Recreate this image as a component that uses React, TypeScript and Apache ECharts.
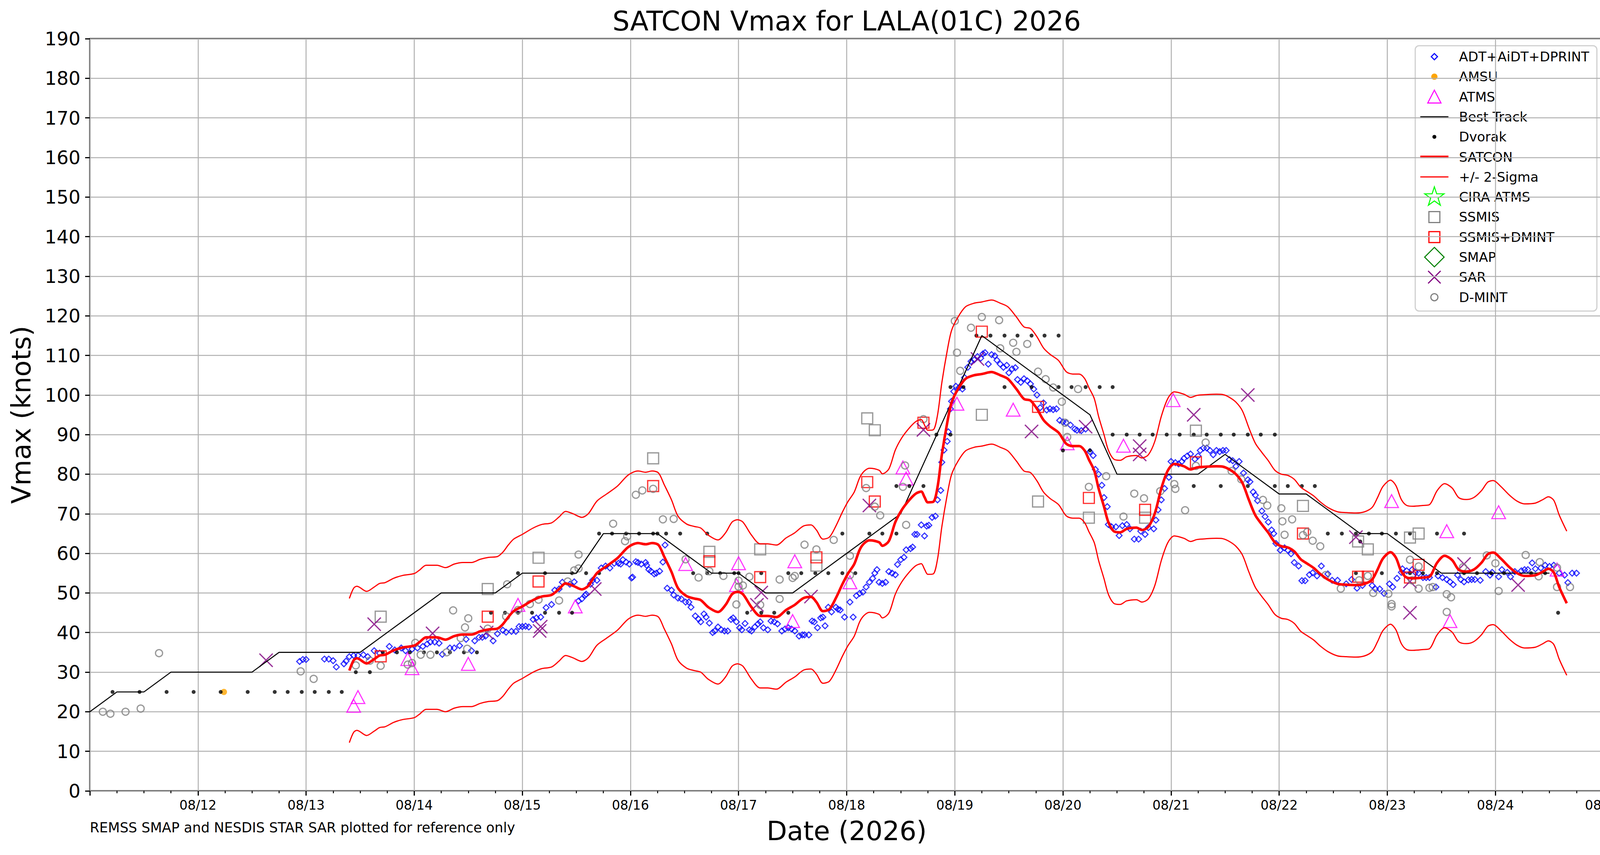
import { useEffect, useRef } from "react";
import * as echarts from "echarts";

// x values are August 2026 day-of-month with fractional hours (13.5 = 08/13 12Z)
const DAY_MIN = 11;
const DAY_MAX = 25;
const Y_MAX = 190;

const BEST_TRACK = [
  [11.0, 20], [11.25, 25], [11.5, 25], [11.75, 30], [12.0, 30], [12.25, 30], [12.5, 30],
  [12.75, 35], [13.0, 35], [13.25, 35], [13.5, 35], [13.75, 40], [14.0, 45], [14.25, 50],
  [14.5, 50], [14.75, 50], [15.0, 55], [15.25, 55], [15.5, 55], [15.75, 65], [16.0, 65],
  [16.25, 65], [16.5, 60], [16.75, 55], [17.0, 55], [17.25, 50], [17.5, 50], [17.75, 55],
  [18.0, 60], [18.25, 65], [18.5, 70], [18.75, 85], [19.0, 100], [19.25, 115], [19.5, 110],
  [19.75, 105], [20.0, 100], [20.25, 95], [20.5, 80], [20.75, 80], [21.0, 80], [21.25, 80],
  [21.5, 85], [21.75, 80], [22.0, 75], [22.25, 75], [22.5, 70], [22.75, 65], [23.0, 65],
  [23.25, 60], [23.5, 55], [23.75, 55], [24.0, 55], [24.25, 55], [24.5, 55],
];

const DVORAK = [
  [11.21, 25], [11.46, 25], [11.71, 25], [11.96, 25], [12.21, 25], [12.46, 25], [12.71, 25],
  [12.83, 25], [12.96, 25], [13.08, 25], [13.21, 25], [13.33, 25], [13.46, 30], [13.59, 30],
  [13.71, 35], [13.84, 35], [13.96, 35], [14.09, 35], [14.21, 35], [14.33, 35], [14.46, 35],
  [14.58, 35], [14.71, 45], [14.84, 45], [14.96, 45], [15.09, 45], [15.21, 45], [15.34, 45],
  [15.46, 45], [14.96, 55], [15.21, 55], [15.46, 55], [15.59, 55], [15.71, 55], [15.71, 65],
  [15.83, 65], [15.96, 65], [16.08, 65], [16.21, 65], [16.25, 65], [16.33, 65], [16.46, 65],
  [16.71, 65], [16.58, 55], [16.71, 55], [16.83, 55], [16.96, 55], [17.0, 55], [17.21, 55],
  [17.46, 55], [17.58, 55], [17.71, 55], [17.83, 55], [17.96, 55], [18.08, 55], [17.08, 45],
  [17.21, 45], [17.33, 45], [17.46, 45], [17.96, 65], [18.21, 65], [18.33, 65], [18.46, 65],
  [18.46, 77], [18.58, 77], [18.71, 77], [18.83, 90], [18.96, 90], [18.96, 102], [19.08, 102],
  [19.46, 102], [19.71, 102], [19.96, 102], [20.08, 102], [20.21, 102], [20.34, 102],
  [20.46, 102], [19.2, 115], [19.33, 115], [19.46, 115], [19.58, 115], [19.71, 115],
  [19.83, 115], [19.96, 115], [20.0, 86], [20.25, 86], [20.46, 90], [20.59, 90], [20.71, 90],
  [20.83, 90], [20.96, 90], [21.08, 90], [21.21, 90], [21.33, 90], [21.46, 90], [21.58, 90],
  [21.71, 90], [21.83, 90], [21.96, 90], [21.21, 77], [21.46, 77], [21.71, 77], [21.96, 77],
  [22.08, 77], [22.21, 77], [22.33, 77], [22.45, 65], [22.58, 65], [22.71, 65], [22.83, 65],
  [22.95, 65], [23.08, 65], [23.21, 65], [23.46, 65], [23.71, 65], [22.75, 63], [22.71, 55],
  [22.95, 55], [23.21, 55], [23.33, 55], [23.46, 55], [23.71, 55], [23.83, 55], [23.96, 55],
  [24.08, 55], [24.33, 55], [24.46, 55], [24.58, 45],
];

const AMSU = [[12.24, 25]];

const ATMS = [
  [13.48, 23.7], [13.44, 21.5], [13.94, 33.3], [13.98, 31.0], [14.5, 32.1], [14.96, 47.0],
  [15.49, 46.6], [16.51, 57.3], [17.0, 57.5], [16.98, 52.0], [17.52, 58.0], [17.5, 42.9],
  [18.03, 52.7], [18.52, 81.7], [18.55, 78.9], [19.02, 97.8], [19.54, 96.3], [20.04, 87.8],
  [20.56, 87.2], [21.02, 98.7], [23.04, 73.2], [23.55, 65.6], [23.58, 42.9], [24.03, 70.4],
  [24.57, 55.9],
];

const SSMIS = [
  [13.69, 44], [14.68, 51], [15.15, 58.9], [16.21, 84], [16.73, 60.4], [17.2, 61],
  [17.72, 56.9], [18.19, 94.1], [18.26, 91.1], [19.25, 95], [19.77, 73.1], [20.24, 69],
  [20.76, 69], [21.23, 91], [22.22, 72], [22.73, 63], [22.82, 61], [23.21, 64], [23.29, 65],
];

const SSMIS_DMINT = [
  [13.69, 34], [14.68, 44], [15.15, 52.9], [16.21, 77], [16.73, 58], [17.2, 54], [17.72, 59],
  [18.19, 78], [18.26, 73.1], [18.71, 93], [19.25, 116], [19.77, 97], [20.24, 74],
  [20.76, 71], [21.23, 83], [22.22, 65], [22.73, 54.1], [22.82, 54.1], [23.21, 53.9],
  [23.29, 57.1],
];

const SAR = [
  [12.63, 33], [13.63, 42.1], [14.17, 39.8], [14.67, 40], [15.17, 41.5], [15.16, 40.4],
  [15.67, 51], [17.21, 50.1], [17.17, 47], [17.67, 49.1], [18.21, 72.1], [18.71, 91.2],
  [19.21, 109.1], [19.71, 90.8], [20.21, 92], [20.71, 87.1], [20.71, 85], [21.21, 95],
  [21.71, 100], [22.71, 64.1], [23.21, 45], [23.21, 52.9], [23.71, 57.3], [24.21, 52],
];

const DMINT = [
  [11.12, 20], [11.19, 19.5], [11.33, 20], [11.47, 20.8], [11.64, 34.8], [12.95, 30.2],
  [13.07, 28.3], [13.46, 31.7], [13.59, 32.9], [13.69, 31.6], [13.94, 31.9], [13.98, 32.3],
  [14.01, 37.4], [14.06, 34.4], [14.15, 34.4], [14.3, 35.0], [14.36, 45.6], [14.43, 38.6],
  [14.47, 41.3], [14.5, 43.6], [14.49, 35.9], [14.68, 41.0], [14.85, 44.1], [14.86, 52.2],
  [14.96, 45.7], [15.07, 47.2], [15.15, 48.3], [15.34, 48.1], [15.42, 52.9], [15.48, 55.7],
  [15.52, 56.2], [15.52, 59.7], [15.84, 67.5], [15.95, 63.1], [15.97, 64.3], [16.05, 74.8],
  [16.11, 75.9], [16.21, 76.3], [16.3, 68.6], [16.4, 68.7], [16.51, 58.5], [16.63, 53.9],
  [16.73, 55.5], [16.86, 54.3], [17.0, 53.1], [17.0, 51.6], [17.04, 51.9], [16.98, 47.1],
  [17.1, 54.1], [17.2, 47.0], [17.38, 53.4], [17.38, 48.5], [17.5, 53.8], [17.52, 54.3],
  [17.61, 62.2], [17.72, 61.0], [17.88, 63.4], [18.03, 59.4], [18.03, 54.5], [18.18, 76.5],
  [18.26, 71.8], [18.31, 69.6], [18.52, 76.8], [18.54, 82.2], [18.55, 67.2], [18.71, 93.9],
  [19.0, 118.7], [19.02, 110.7], [19.05, 106.1], [19.15, 117.0], [19.25, 119.7],
  [19.41, 118.9], [19.42, 111.8], [19.54, 113.2], [19.57, 110.9], [19.67, 112.9],
  [19.77, 105.9], [19.84, 104.0], [19.91, 101.9], [19.99, 98.3], [20.02, 93.0], [20.04, 89.4],
  [20.14, 101.5], [20.24, 76.8], [20.4, 79.5], [20.56, 69.3], [20.66, 75.1], [20.75, 73.9],
  [20.9, 75.7], [21.03, 77.5], [21.04, 76.3], [21.13, 70.9], [21.23, 82.1], [21.32, 88.0],
  [21.56, 80.8], [21.65, 78.7], [21.85, 73.5], [21.89, 72.1], [22.02, 71.4], [22.03, 68.1],
  [22.05, 64.7], [22.12, 68.6], [22.22, 64.6], [22.26, 65.4], [22.31, 63.2], [22.38, 61.8],
  [22.43, 54.5], [22.57, 51.1], [22.74, 53.2], [22.82, 54.3], [22.87, 50.0], [23.01, 49.8],
  [23.04, 47.2], [23.04, 46.6], [23.21, 58.4], [23.29, 56.7], [23.23, 53.2], [23.29, 51.1],
  [23.39, 51.3], [23.42, 51.5], [23.55, 49.7], [23.59, 48.9], [23.55, 45.2], [23.7, 56.5],
  [23.92, 59.5], [24.0, 57.5], [24.03, 50.5], [24.28, 59.6], [24.41, 57.8], [24.4, 54.2],
  [24.57, 56.4], [24.57, 51.5], [24.69, 51.5],
];

const ADT = [
  [12.94, 32.7], [12.97, 33.2], [13.0, 33.2], [13.17, 33.3], [13.21, 33.3], [13.25, 32.9],
  [13.28, 31.3], [13.35, 32.1], [13.37, 32.8], [13.4, 33.9], [13.44, 34.2], [13.48, 34.2],
  [13.53, 34.4], [13.57, 33.9], [13.63, 35.4], [13.68, 34.8], [13.77, 36.5], [13.82, 35.6],
  [13.88, 36.1], [13.92, 35.4], [13.98, 35.8], [14.03, 36.1], [14.08, 36.5], [14.12, 37.1],
  [14.15, 37.6], [14.19, 37.6], [14.23, 37.3], [14.26, 34.5], [14.33, 36.1], [14.37, 36.1],
  [14.42, 36.7], [14.48, 38.3], [14.53, 35.4], [14.56, 37.9], [14.6, 38.8], [14.63, 38.8],
  [14.66, 39.1], [14.73, 37.9], [14.77, 39.7], [14.82, 40.6], [14.85, 40.1], [14.9, 40.3],
  [14.94, 40.3], [14.97, 41.5], [15.0, 41.5], [15.03, 41.6], [15.06, 41.4], [15.1, 43.3],
  [15.13, 43.7], [15.17, 43.9], [15.22, 46.3], [15.27, 47.1], [15.3, 50.7], [15.34, 51.0],
  [15.37, 52.7], [15.44, 52.2], [15.48, 52.8], [15.52, 48.0], [15.55, 48.5], [15.58, 49.4],
  [15.59, 49.7], [15.63, 52.2], [15.65, 53.2], [15.69, 53.2], [15.73, 56.3], [15.77, 56.8],
  [15.81, 56.3], [15.85, 57.5], [15.89, 57.5], [15.91, 57.3], [15.93, 58.4], [15.96, 57.8],
  [15.99, 57.3], [16.01, 53.8], [16.02, 54.0], [16.05, 57.9], [16.07, 57.7], [16.1, 57.3],
  [16.14, 57.7], [16.15, 57.0], [16.17, 55.9], [16.19, 55.5], [16.22, 54.8], [16.24, 55.0],
  [16.27, 55.5], [16.3, 57.8], [16.32, 62.1], [16.34, 51.2], [16.38, 50.7], [16.4, 49.5],
  [16.44, 48.7], [16.47, 48.5], [16.51, 47.7], [16.54, 47.7], [16.56, 46.4], [16.6, 44.2],
  [16.63, 43.4], [16.65, 42.7], [16.68, 44.7], [16.7, 43.9], [16.73, 42.4], [16.76, 40.0],
  [16.78, 40.4], [16.81, 41.4], [16.84, 40.7], [16.87, 40.4], [16.9, 40.4], [16.93, 43.3],
  [16.95, 43.7], [16.98, 42.7], [17.01, 41.2], [17.03, 40.7], [17.06, 42.3], [17.1, 40.7],
  [17.12, 40.4], [17.15, 41.4], [17.18, 42.2], [17.2, 42.7], [17.23, 41.2], [17.27, 40.7],
  [17.3, 42.9], [17.33, 42.7], [17.36, 42.2], [17.4, 40.4], [17.43, 40.9], [17.46, 41.2],
  [17.49, 40.9], [17.52, 40.4], [17.56, 39.1], [17.59, 39.4], [17.61, 39.4], [17.65, 39.4],
  [17.68, 42.9], [17.7, 42.7], [17.73, 41.2], [17.76, 43.7], [17.78, 43.9], [17.8, 41.7],
  [17.83, 46.4], [17.86, 45.2], [17.9, 46.4], [17.92, 45.9], [17.94, 45.7], [17.98, 43.9],
  [18.03, 47.7], [18.06, 43.9], [18.09, 49.3], [18.12, 49.9], [18.15, 50.2], [18.18, 51.5],
  [18.21, 52.7], [18.24, 53.7], [18.26, 55.0], [18.28, 55.9], [18.3, 52.7], [18.33, 52.4],
  [18.36, 52.7], [18.39, 55.4], [18.42, 55.0], [18.45, 54.6], [18.47, 57.2], [18.5, 58.4],
  [18.53, 59.0], [18.55, 60.9], [18.59, 61.2], [18.61, 61.6], [18.63, 64.8], [18.65, 64.8],
  [18.69, 67.2], [18.72, 64.4], [18.74, 66.9], [18.76, 67.1], [18.79, 69.1], [18.82, 69.4],
  [18.84, 73.5], [18.87, 75.9], [18.88, 83.0], [18.9, 86.1], [18.93, 88.3], [18.94, 90.7],
  [18.96, 96.5], [18.97, 98.4], [18.99, 100.9], [19.01, 102.2], [19.04, 101.9], [19.07, 101.5],
  [19.09, 104.4], [19.12, 107.0], [19.15, 108.5], [19.18, 108.9], [19.21, 109.7],
  [19.24, 109.3], [19.26, 110.4], [19.28, 110.7], [19.31, 107.8], [19.34, 110.2],
  [19.37, 109.9], [19.39, 108.8], [19.42, 107.8], [19.45, 107.0], [19.48, 107.5],
  [19.5, 105.6], [19.53, 106.6], [19.56, 106.9], [19.58, 103.9], [19.61, 103.2],
  [19.64, 104.1], [19.67, 103.6], [19.7, 102.8], [19.73, 101.5], [19.76, 100.0], [19.79, 96.8],
  [19.82, 98.0], [19.85, 96.2], [19.88, 96.5], [19.91, 96.3], [19.94, 96.5], [19.97, 93.6],
  [20.0, 93.2], [20.03, 93.0], [20.07, 92.4], [20.11, 91.4], [20.13, 91.1], [20.17, 91.0],
  [20.21, 91.4], [20.25, 85.7], [20.28, 84.7], [20.3, 81.2], [20.33, 80.0], [20.36, 77.2],
  [20.38, 74.1], [20.41, 71.8], [20.42, 67.3], [20.45, 66.7], [20.49, 66.7], [20.52, 64.5],
  [20.55, 67.0], [20.59, 67.3], [20.62, 66.2], [20.66, 63.6], [20.7, 63.6], [20.72, 65.6],
  [20.76, 64.8], [20.79, 66.5], [20.84, 66.2], [20.86, 68.4], [20.88, 71.0], [20.91, 73.5],
  [20.94, 76.4], [20.98, 79.2], [21.0, 83.2], [21.04, 82.9], [21.07, 82.6], [21.1, 83.2],
  [21.12, 84.0], [21.15, 84.6], [21.18, 85.1], [21.22, 83.8], [21.25, 84.6], [21.27, 86.0],
  [21.3, 86.6], [21.33, 86.6], [21.36, 86.0], [21.39, 84.9], [21.42, 86.0], [21.45, 85.7],
  [21.48, 86.0], [21.51, 86.0], [21.54, 83.7], [21.57, 83.4], [21.6, 82.0], [21.63, 83.2],
  [21.67, 80.3], [21.71, 78.6], [21.73, 78.1], [21.76, 75.5], [21.78, 74.7], [21.8, 73.3],
  [21.84, 70.7], [21.87, 69.3], [21.9, 67.9], [21.93, 65.9], [21.95, 65.0], [21.97, 62.5],
  [22.01, 60.8], [22.05, 61.4], [22.08, 60.8], [22.11, 59.9], [22.14, 57.7], [22.18, 56.8],
  [22.21, 53.1], [22.24, 53.1], [22.28, 54.6], [22.31, 55.1], [22.35, 54.3], [22.39, 56.8],
  [22.45, 54.8], [22.49, 53.2], [22.54, 53.2], [22.62, 52.3], [22.67, 53.4], [22.72, 51.2],
  [22.77, 51.9], [22.86, 51.9], [22.89, 51.0], [22.93, 51.0], [22.97, 49.9], [23.02, 52.3],
  [23.05, 51.5], [23.09, 53.7], [23.13, 55.2], [23.14, 56.1], [23.18, 55.6], [23.23, 55.9],
  [23.26, 55.2], [23.29, 55.0], [23.33, 53.9], [23.36, 53.9], [23.39, 53.9], [23.45, 51.5],
  [23.47, 54.3], [23.51, 53.9], [23.55, 53.4], [23.58, 52.8], [23.61, 52.1], [23.65, 54.5],
  [23.68, 53.4], [23.71, 52.8], [23.75, 53.3], [23.78, 53.4], [23.81, 53.4], [23.86, 53.2],
  [23.91, 55.4], [23.95, 54.5], [23.97, 55.2], [24.03, 54.1], [24.06, 55.9], [24.11, 55.2],
  [24.14, 54.1], [24.18, 55.4], [24.24, 55.6], [24.27, 55.9], [24.3, 55.9], [24.34, 57.6],
  [24.37, 56.1], [24.42, 56.3], [24.46, 57.0], [24.5, 56.7], [24.54, 57.0], [24.59, 55.0],
  [24.64, 54.5], [24.67, 52.6], [24.71, 55.0], [24.75, 55.0],
];

const SATCON = [
  [13.4, 30.4], [13.44, 33.0], [13.47, 33.5], [13.56, 32.2], [13.63, 33.3], [13.68, 34.2],
  [13.73, 34.4], [13.81, 35.5], [13.89, 36.2], [14.0, 36.7], [14.05, 37.6], [14.11, 38.8],
  [14.21, 38.8], [14.29, 38.2], [14.37, 39.1], [14.45, 39.5], [14.53, 39.5], [14.61, 40.3],
  [14.69, 40.8], [14.77, 41.0], [14.82, 42.1], [14.87, 43.9], [14.92, 45.4], [15.0, 46.6],
  [15.1, 48.2], [15.18, 49.1], [15.27, 49.5], [15.34, 51.0], [15.4, 52.4], [15.47, 51.8],
  [15.55, 50.9], [15.61, 51.8], [15.69, 55.0], [15.78, 56.8], [15.88, 58.8], [15.98, 61.6],
  [16.07, 62.6], [16.14, 62.3], [16.2, 62.6], [16.26, 62.1], [16.31, 59.3], [16.38, 55.3],
  [16.44, 51.2], [16.52, 49.2], [16.59, 48.6], [16.65, 48.2], [16.72, 46.4], [16.81, 45.2],
  [16.88, 47.0], [16.94, 49.7], [16.99, 50.3], [17.04, 49.7], [17.12, 46.4], [17.2, 44.2],
  [17.27, 44.2], [17.35, 43.9], [17.44, 45.7], [17.52, 47.0], [17.6, 48.7], [17.67, 49.0],
  [17.72, 47.7], [17.78, 45.4], [17.84, 45.9], [17.9, 48.7], [17.96, 52.2], [18.01, 54.8],
  [18.07, 57.3], [18.12, 60.9], [18.16, 62.5], [18.21, 63.3], [18.3, 62.8], [18.33, 61.9],
  [18.39, 63.1], [18.45, 67.9], [18.51, 71.0], [18.58, 73.5], [18.64, 75.1], [18.69, 75.6],
  [18.72, 74.2], [18.75, 72.9], [18.8, 73.0], [18.84, 76.7], [18.88, 84.9], [18.93, 93.0],
  [18.97, 98.1], [19.03, 101.5], [19.1, 104.1], [19.18, 105.0], [19.25, 105.3],
  [19.34, 105.8], [19.42, 105.0], [19.49, 104.1], [19.57, 101.5], [19.64, 99.0],
  [19.7, 98.6], [19.76, 96.5], [19.82, 93.7], [19.88, 92.1], [19.96, 90.5], [20.03, 87.7],
  [20.09, 87.1], [20.15, 87.1], [20.2, 86.0], [20.24, 83.7], [20.29, 80.9], [20.33, 76.4],
  [20.38, 71.8], [20.42, 67.9], [20.47, 65.6], [20.53, 65.3], [20.59, 66.2], [20.68, 66.5],
  [20.73, 65.9], [20.79, 66.7], [20.85, 70.1], [20.91, 76.4], [20.97, 80.9], [21.03, 82.6],
  [21.12, 82.0], [21.18, 81.2], [21.24, 81.7], [21.33, 81.9], [21.42, 82.0], [21.48, 81.9],
  [21.54, 81.2], [21.6, 80.0], [21.66, 77.8], [21.72, 73.5], [21.78, 69.6], [21.84, 67.3],
  [21.9, 65.2], [21.96, 62.8], [22.02, 61.8], [22.08, 61.5], [22.14, 60.5], [22.2, 58.5],
  [22.26, 57.4], [22.32, 56.3], [22.38, 54.8], [22.45, 53.4], [22.54, 52.3], [22.62, 52.1],
  [22.71, 52.0], [22.79, 52.3], [22.86, 53.4], [22.91, 55.9], [22.96, 58.7], [23.03, 60.3],
  [23.08, 58.9], [23.13, 55.4], [23.18, 53.9], [23.24, 53.7], [23.33, 53.9], [23.39, 54.1],
  [23.46, 57.6], [23.53, 59.4], [23.6, 58.3], [23.66, 55.9], [23.73, 55.4], [23.8, 55.9],
  [23.87, 57.6], [23.93, 59.8], [23.98, 60.2], [24.05, 58.7], [24.13, 56.5], [24.2, 55.0],
  [24.27, 54.3], [24.37, 54.5], [24.44, 55.4], [24.49, 56.1], [24.54, 55.2], [24.59, 51.5],
  [24.66, 47.4],
];

// width of the +/- 2-sigma band (it stays ~18 kt all along)
const TWO_SIGMA = 18.2;

const TITLE = "SATCON Vmax for LALA(01C) 2026";
const NOTE = "REMSS SMAP and NESDIS STAR SAR plotted for reference only";

const FONT = "DejaVu Sans";
const W = 4179;
const H = 2188;
const GRID = { left: 230, right: 74, top: 99, bottom: 164 };

const LEGEND_ITEMS = [
  { label: "ADT+AiDT+DPRINT", kind: "diamond", color: "#0000ff" },
  { label: "AMSU", kind: "dot", color: "#ffa500" },
  { label: "ATMS", kind: "triangle", color: "#ff00ff" },
  { label: "Best Track", kind: "line", color: "#000000", width: 2.6 },
  { label: "Dvorak", kind: "smalldot", color: "#000000" },
  { label: "SATCON", kind: "line", color: "#ff0000", width: 6.5 },
  { label: "+/- 2-Sigma", kind: "line", color: "#ff0000", width: 3 },
  { label: "CIRA ATMS", kind: "star", color: "#00ff00" },
  { label: "SSMIS", kind: "square", color: "#808080" },
  { label: "SSMIS+DMINT", kind: "square", color: "#ff0000" },
  { label: "SMAP", kind: "bigdiamond", color: "#008000" },
  { label: "SAR", kind: "cross", color: "#800080" },
  { label: "D-MINT", kind: "ring", color: "#808080" },
];

const LEG = { x: 3623, y: 117, w: 465, h: 679, row0: 145, step: 51.3, mx: 3672, tx: 3735 };

function legendMarker(kind: string, color: string, cy: number, width = 3): any[] {
  const cx = LEG.mx;
  const stroke = (lw: number) => ({ fill: "none", stroke: color, lineWidth: lw });
  switch (kind) {
    case "diamond":
      return [{ type: "polygon", shape: { points: [[cx, cy - 8], [cx + 8, cy], [cx, cy + 8], [cx - 8, cy]] }, style: stroke(2.8) }];
    case "bigdiamond":
      return [{ type: "polygon", shape: { points: [[cx, cy - 25], [cx + 25, cy], [cx, cy + 25], [cx - 25, cy]] }, style: stroke(2.6) }];
    case "dot":
      return [{ type: "circle", shape: { cx, cy, r: 8 }, style: { fill: color } }];
    case "smalldot":
      return [{ type: "circle", shape: { cx, cy, r: 5 }, style: { fill: color } }];
    case "triangle":
      return [{ type: "polygon", shape: { points: [[cx, cy - 17], [cx + 17, cy + 16], [cx - 17, cy + 16]] }, style: stroke(2.6) }];
    case "line":
      return [{ type: "line", shape: { x1: cx - 36, y1: cy, x2: cx + 36, y2: cy }, style: { stroke: color, lineWidth: width } }];
    case "star": {
      const pts: number[][] = [];
      for (let i = 0; i < 10; i++) {
        const r = i % 2 === 0 ? 26 : 10;
        const a = -Math.PI / 2 + (i * Math.PI) / 5;
        pts.push([cx + r * Math.cos(a), cy + r * Math.sin(a)]);
      }
      return [{ type: "polygon", shape: { points: pts }, style: stroke(2.6) }];
    }
    case "square":
      return [{ type: "rect", shape: { x: cx - 14, y: cy - 14, width: 28, height: 28 }, style: stroke(3) }];
    case "cross":
      return [
        { type: "line", shape: { x1: cx - 16, y1: cy - 16, x2: cx + 16, y2: cy + 16 }, style: { stroke: color, lineWidth: 3 } },
        { type: "line", shape: { x1: cx - 16, y1: cy + 16, x2: cx + 16, y2: cy - 16 }, style: { stroke: color, lineWidth: 3 } },
      ];
    case "ring":
      return [{ type: "circle", shape: { cx, cy, r: 9 }, style: stroke(3) }];
  }
  return [];
}

function buildLegend(): any[] {
  const els: any[] = [
    {
      type: "rect",
      shape: { x: LEG.x, y: LEG.y, width: LEG.w, height: LEG.h, r: 10 },
      style: { fill: "rgba(255,255,255,0.8)", stroke: "#d0d0d0", lineWidth: 3 },
    },
  ];
  LEGEND_ITEMS.forEach((item: any, i) => {
    const cy = LEG.row0 + i * LEG.step;
    els.push(...legendMarker(item.kind, item.color, cy, item.width));
    els.push({
      type: "text",
      x: LEG.tx,
      y: cy,
      style: {
        text: item.label,
        fill: "#000",
        font: `34px "${FONT}"`,
        verticalAlign: "middle",
        textVerticalAlign: "middle",
      },
    });
  });
  return els;
}

const hollow = (color: string, width: number) => ({
  color: "rgba(0,0,0,0)",
  borderColor: color,
  borderWidth: width,
});

function buildOption() {
  const upper = SATCON.map(([d, v]) => [d, v + TWO_SIGMA]);
  const lower = SATCON.map(([d, v]) => [d, v - TWO_SIGMA]);
  const common = { silent: true, emphasis: { disabled: true }, animation: false };
  return {
    animation: false,
    textStyle: { fontFamily: FONT },
    title: {
      text: TITLE,
      left: (GRID.left + (W - GRID.right)) / 2,
      top: 19,
      textAlign: "center",
      padding: 0,
      textStyle: { fontSize: 69, fontWeight: "normal", fontFamily: FONT, color: "#000" },
    },
    grid: {
      left: GRID.left,
      right: GRID.right,
      top: GRID.top,
      bottom: GRID.bottom,
      containLabel: false,
      show: true,
      borderColor: "#000",
      borderWidth: 3.3,
      backgroundColor: "transparent",
    },
    xAxis: {
      type: "value",
      min: DAY_MIN,
      max: DAY_MAX,
      interval: 1,
      name: "Date (2026)",
      nameLocation: "middle",
      nameGap: 68,
      nameMoveOverlap: false,
      nameTextStyle: { fontSize: 68, fontFamily: FONT, color: "#000" },
      axisLine: { show: false },
      axisTick: { show: true, length: 12, lineStyle: { color: "#000", width: 3 } },
      minorTick: { show: true, splitNumber: 4, length: 6, lineStyle: { color: "#000", width: 2.5 } },
      axisLabel: {
        fontSize: 33,
        color: "#000",
        margin: 20,
        fontFamily: FONT,
        hideOverlap: false,
        formatter: (v: number) => (v <= DAY_MIN ? "" : `08/${v}`),
      },
      splitLine: { show: true, lineStyle: { color: "#b0b0b0", width: 2.5 } },
    },
    yAxis: {
      type: "value",
      min: 0,
      max: Y_MAX,
      interval: 10,
      name: "Vmax (knots)",
      nameLocation: "middle",
      nameGap: 142,
      nameMoveOverlap: false,
      nameTextStyle: { fontSize: 68, fontFamily: FONT, color: "#000" },
      axisLine: { show: false },
      axisTick: { show: true, length: 12, lineStyle: { color: "#000", width: 3 } },
      axisLabel: { fontSize: 48, color: "#000", margin: 24, fontFamily: FONT },
      splitLine: { show: true, lineStyle: { color: "#b0b0b0", width: 2.5 } },
    },
    series: [
      { ...common, name: "ADT+AiDT+DPRINT", type: "scatter", data: ADT, symbol: "diamond", symbolSize: 15, itemStyle: hollow("#0000ff", 2.8) },
      { ...common, name: "AMSU", type: "scatter", data: AMSU, symbol: "circle", symbolSize: 16, itemStyle: { color: "#ffa500" } },
      { ...common, name: "ATMS", type: "scatter", data: ATMS, symbol: "triangle", symbolSize: [35, 33], itemStyle: hollow("#ff00ff", 2.8) },
      { ...common, name: "Best Track", type: "line", data: BEST_TRACK, symbol: "none", showSymbol: false, lineStyle: { color: "#000", width: 2.6 } },
      { ...common, name: "Dvorak", type: "scatter", data: DVORAK, symbol: "circle", symbolSize: 10, itemStyle: { color: "#000" } },
      { ...common, name: "SATCON", type: "line", data: SATCON, symbol: "none", showSymbol: false, smooth: 0.3, lineStyle: { color: "#ff0000", width: 6.5 } },
      { ...common, name: "+/- 2-Sigma", type: "line", data: upper, symbol: "none", showSymbol: false, smooth: 0.3, lineStyle: { color: "#ff0000", width: 3 } },
      { ...common, name: "+/- 2-Sigma", type: "line", data: lower, symbol: "none", showSymbol: false, smooth: 0.3, lineStyle: { color: "#ff0000", width: 3 } },
      { ...common, name: "CIRA ATMS", type: "scatter", data: [] },
      { ...common, name: "SSMIS", type: "scatter", data: SSMIS, symbol: "rect", symbolSize: 28, itemStyle: hollow("#808080", 3.2) },
      { ...common, name: "SSMIS+DMINT", type: "scatter", data: SSMIS_DMINT, symbol: "rect", symbolSize: 28, itemStyle: hollow("#ff0000", 3.2) },
      { ...common, name: "SMAP", type: "scatter", data: [] },
      { ...common, name: "SAR", type: "scatter", data: SAR, symbol: "path://M0,0L20,20M20,0L0,20", symbolSize: 34, itemStyle: hollow("#800080", 3.2) },
      { ...common, name: "D-MINT", type: "scatter", data: DMINT, symbol: "circle", symbolSize: 18, itemStyle: hollow("#808080", 3.2) },
    ],
    graphic: {
      elements: [
        {
          type: "text",
          x: GRID.left,
          y: 2100,
          silent: true,
          style: { text: NOTE, fill: "#000", font: `35px "${FONT}"`, verticalAlign: "top", textVerticalAlign: "top" },
        },
        { type: "group", z: 100, silent: true, children: buildLegend() },
      ],
    },
  };
}

export default function App() {
  const ref = useRef<HTMLDivElement>(null);

  useEffect(() => {
    document.body.style.margin = "0";
    document.documentElement.style.overflow = "hidden";
    if (!ref.current) return;
    const chart = echarts.init(ref.current, null, { renderer: "svg" });
    chart.setOption(buildOption() as any);
    return () => chart.dispose();
  }, []);

  return <div ref={ref} style={{ width: W, height: H, background: "#fff" }} />;
}
